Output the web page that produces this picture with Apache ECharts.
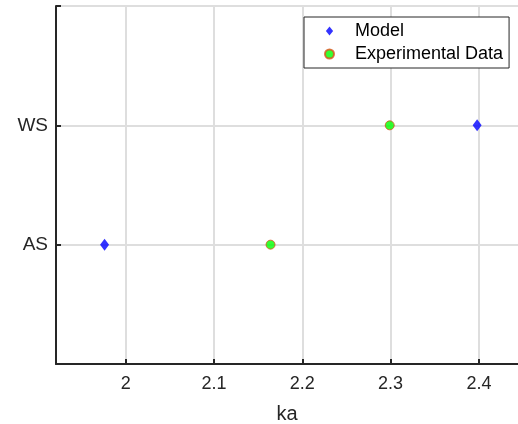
<!DOCTYPE html>
<html>
<head>
<meta charset="utf-8">
<script src="https://cdn.jsdelivr.net/npm/echarts@6/dist/echarts.min.js"></script>
<style>
  html, body { margin: 0; padding: 0; background: #fff; }
  #chart { width: 518px; height: 424px; }
</style>
</head>
<body>
<div id="chart"></div>
<script>
// Categories on the vertical axis (position 1, 2 ...)
const categories = ['AS', 'WS'];
// ka values per category
const modelKa = [1.976, 2.398];
const expKa = [2.164, 2.299];
// x-axis tick values
const xTicks = [2, 2.1, 2.2, 2.3, 2.4];

const FONT = '"Liberation Sans", Arial, sans-serif';
const AXIS_COLOR = '#262626';
const GRID_COLOR = '#dedede';

const toPoints = vals => vals.map((v, i) => [v, i + 1]);

// Legend icons: symbol drawn at the left of a 25x12 box so the text sits further right
const diamondIcon = 'path://M-4.5,0L-4.5,0M0,-6L0,-6M0,6L0,6M20.5,0L20.5,0M0,-4.6L3.6,0L0,4.6L-3.6,0Z';
const circleIcon = 'path://M0,-6L0,-6M0,6L0,6M20.5,0L20.5,0M-4.5,0A4.5,4.5,0,1,1,4.5,0A4.5,4.5,0,1,1,-4.5,0Z';

const chart = echarts.init(document.getElementById('chart'), null, { renderer: 'canvas' });
chart.setOption({
  animation: false,
  backgroundColor: '#fff',
  textStyle: { fontFamily: FONT },
  grid: { left: 56, right: 0, top: 6, bottom: 60, containLabel: false, outerBoundsMode: 'none' },
  xAxis: {
    type: 'value',
    min: 1.921,
    max: 2.4443,
    name: 'ka',
    nameLocation: 'middle',
    nameGap: 40,
    nameTextStyle: { fontSize: 20, color: AXIS_COLOR, fontFamily: FONT },
    axisLine: { show: true, lineStyle: { color: AXIS_COLOR, width: 2 } },
    axisTick: { show: true, inside: true, length: 5, customValues: xTicks, lineStyle: { color: AXIS_COLOR, width: 2 } },
    axisLabel: { customValues: xTicks, fontSize: 18, color: AXIS_COLOR, margin: 11, fontFamily: FONT, formatter: v => String(+v.toFixed(2)) },
    splitLine: { show: true, lineStyle: { color: GRID_COLOR, width: 2 } }
  },
  yAxis: {
    type: 'value',
    min: 0,
    max: categories.length + 1,
    interval: 1,
    axisLine: { show: true, lineStyle: { color: AXIS_COLOR, width: 2 } },
    axisTick: { show: true, inside: true, length: 5, lineStyle: { color: AXIS_COLOR, width: 2 } },
    axisLabel: {
      fontSize: 19, color: AXIS_COLOR, margin: 8, fontFamily: FONT,
      formatter: v => categories[v - 1] || ''
    },
    splitLine: { show: true, lineStyle: { color: GRID_COLOR, width: 2 } }
  },
  legend: {
    orient: 'vertical',
    left: 304,
    top: 17,
    padding: [5, 6, 5, 20],
    itemGap: 5,
    itemWidth: 25,
    itemHeight: 12,
    borderColor: AXIS_COLOR,
    borderWidth: 1,
    borderRadius: 0,
    backgroundColor: '#fff',
    textStyle: { fontSize: 18, color: '#000', lineHeight: 18, fontFamily: FONT },
    data: [
      { name: 'Model', icon: diamondIcon },
      { name: 'Experimental Data', icon: circleIcon }
    ]
  },
  series: [
    {
      name: 'Model',
      type: 'scatter',
      symbol: 'diamond',
      symbolSize: [9, 12],
      itemStyle: { color: '#0000ff', borderColor: '#0000ff', borderWidth: 0 },
      data: toPoints(modelKa),
      z: 3
    },
    {
      name: 'Experimental Data',
      type: 'scatter',
      symbol: 'circle',
      symbolSize: 9,
      itemStyle: { color: '#00ff00', borderColor: '#d95319', borderWidth: 1 },
      data: toPoints(expKa),
      z: 3
    }
  ]
});
</script>
</body>
</html>
